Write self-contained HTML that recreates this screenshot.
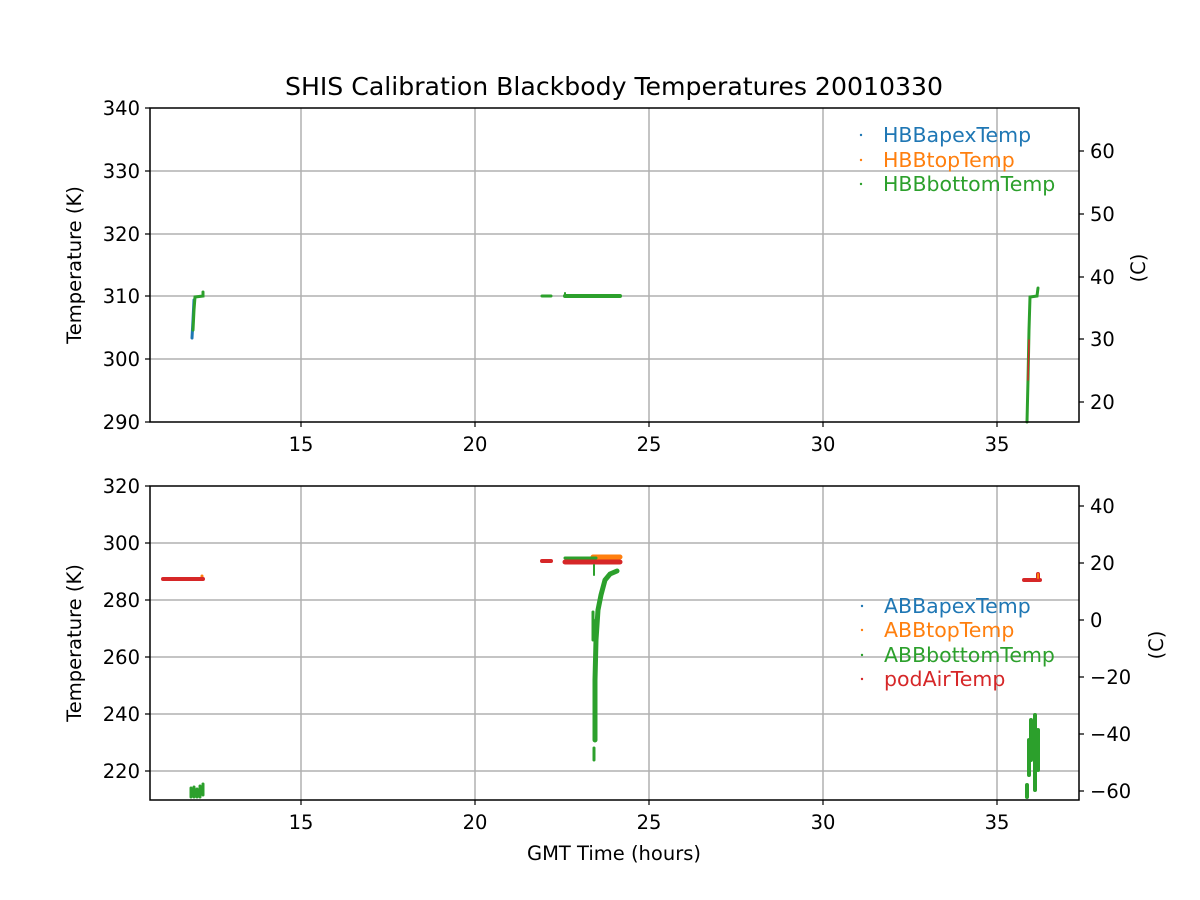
<!DOCTYPE html>
<html><head><meta charset="utf-8"><style>body{margin:0;background:#fff}svg{display:block}text{font-family:"DejaVu Sans","Liberation Sans",sans-serif;fill:#000}</style></head><body>
<svg width="1200" height="900" xmlns="http://www.w3.org/2000/svg">
<rect width="1200" height="900" fill="#fff"/>
<text x="614" y="95" font-size="24.5" text-anchor="middle" textLength="658" lengthAdjust="spacingAndGlyphs">SHIS Calibration Blackbody Temperatures 20010330</text>
<g stroke="#b0b0b0" stroke-width="1.5">
<line x1="301" y1="108" x2="301" y2="422"/><line x1="475" y1="108" x2="475" y2="422"/><line x1="649" y1="108" x2="649" y2="422"/><line x1="823" y1="108" x2="823" y2="422"/><line x1="997" y1="108" x2="997" y2="422"/>
<line x1="150" y1="171" x2="1079" y2="171"/><line x1="150" y1="234" x2="1079" y2="234"/><line x1="150" y1="296" x2="1079" y2="296"/><line x1="150" y1="359" x2="1079" y2="359"/>
<line x1="301" y1="486" x2="301" y2="800"/><line x1="475" y1="486" x2="475" y2="800"/><line x1="649" y1="486" x2="649" y2="800"/><line x1="823" y1="486" x2="823" y2="800"/><line x1="997" y1="486" x2="997" y2="800"/>
<line x1="150" y1="543" x2="1079" y2="543"/><line x1="150" y1="600" x2="1079" y2="600"/><line x1="150" y1="657" x2="1079" y2="657"/><line x1="150" y1="714" x2="1079" y2="714"/><line x1="150" y1="771" x2="1079" y2="771"/>
</g>
<g fill="none" stroke-linecap="round">
<path d="M192 338 L193 320 L194 300" stroke="#1f77b4" stroke-width="3"/>
<path d="M193 330 L194 310 L195 297 L203 296 L203 292" stroke="#2ca02c" stroke-width="3"/>
<path d="M542 296 H551" stroke="#2ca02c" stroke-width="3"/>
<path d="M565 296 H620" stroke="#2ca02c" stroke-width="4"/>
<path d="M565 293 V296" stroke="#2ca02c" stroke-width="2"/>
<path d="M1027 422 L1028 380 L1029 330 L1030 297 L1037 296 L1038 288" stroke="#2ca02c" stroke-width="3"/>
<path d="M1028 380 L1029 340" stroke="#d62728" stroke-width="1.5"/>
</g>
<g fill="none" stroke-linecap="round">
<path d="M163 579 H203 M202 576 V579" stroke="#ff7f0e" stroke-width="3"/>
<path d="M163 579 H203" stroke="#d62728" stroke-width="4"/>
<path d="M191 788 V797 M194 787 V797 M197 789 V797 M200 786 V797 M203 784 V795" stroke="#2ca02c" stroke-width="3"/>
<path d="M542 561 H551" stroke="#d62728" stroke-width="4"/>
<path d="M593 557 H620" stroke="#ff7f0e" stroke-width="5"/>
<path d="M565 558 H596" stroke="#2ca02c" stroke-width="3"/>
<path d="M565 562 H620" stroke="#d62728" stroke-width="5"/>
<path d="M594 565 V575" stroke="#2ca02c" stroke-width="2"/>
<path d="M595 740 L595 680 L596 640 L598 610 L601 595 L605 580 L610 574 L617 571" stroke="#2ca02c" stroke-width="5"/>
<path d="M594 748 V760 M593 612 V640 M596 620 V700" stroke="#2ca02c" stroke-width="3"/>
<path d="M1024 580 H1040 M1038 574 V579" stroke="#d62728" stroke-width="4"/>
<path d="M1038 574 V578" stroke="#ff7f0e" stroke-width="2"/>
<path d="M1031 720 V760 M1035 715 V790 M1038 730 V770 M1029 740 V775" stroke="#2ca02c" stroke-width="4"/>
<path d="M1027 785 V797" stroke="#2ca02c" stroke-width="4"/>
</g>
<rect x="150" y="108" width="929" height="314" fill="none" stroke="#000" stroke-width="1.5"/>
<rect x="150" y="486" width="929" height="314" fill="none" stroke="#000" stroke-width="1.5"/>
<g stroke="#000" stroke-width="1.2">
<path d="M301 422v5M475 422v5M649 422v5M823 422v5M997 422v5M150 108h-5M150 171h-5M150 234h-5M150 296h-5M150 359h-5M150 422h-5M1079 151h5M1079 214h5M1079 277h5M1079 339h5M1079 402h5"/>
<path d="M301 800v5M475 800v5M649 800v5M823 800v5M997 800v5M150 486h-5M150 543h-5M150 600h-5M150 657h-5M150 714h-5M150 771h-5M1079 506h5M1079 563h5M1079 620h5M1079 677h5M1079 734h5M1079 791h5"/>
</g>
<g font-size="19.5" text-anchor="middle">
<text x="301" y="451">15</text><text x="475" y="451">20</text><text x="649" y="451">25</text><text x="823" y="451">30</text><text x="997" y="451">35</text>
<text x="301" y="829">15</text><text x="475" y="829">20</text><text x="649" y="829">25</text><text x="823" y="829">30</text><text x="997" y="829">35</text>
</g>
<g font-size="19.5" text-anchor="end">
<text x="140" y="115">340</text><text x="140" y="178">330</text><text x="140" y="241">320</text><text x="140" y="303">310</text><text x="140" y="366">300</text><text x="140" y="429">290</text>
<text x="140" y="493">320</text><text x="140" y="550">300</text><text x="140" y="607">280</text><text x="140" y="664">260</text><text x="140" y="721">240</text><text x="140" y="778">220</text>
</g>
<g font-size="19.5">
<text x="1090" y="158">60</text><text x="1090" y="221">50</text><text x="1090" y="284">40</text><text x="1090" y="346">30</text><text x="1090" y="409">20</text>
<text x="1090" y="513">40</text><text x="1090" y="570">20</text><text x="1090" y="627">0</text><text x="1090" y="684">−20</text><text x="1090" y="741">−40</text><text x="1090" y="798">−60</text>
</g>
<text font-size="19.5" transform="translate(81,265) rotate(-90)" text-anchor="middle">Temperature (K)</text>
<text font-size="19.5" transform="translate(81,643) rotate(-90)" text-anchor="middle">Temperature (K)</text>
<text font-size="19.5" transform="translate(1145,268) rotate(-90)" text-anchor="middle">(C)</text>
<text font-size="19.5" transform="translate(1163,645) rotate(-90)" text-anchor="middle">(C)</text>
<text font-size="19.5" x="614" y="860" text-anchor="middle">GMT Time (hours)</text>
<g font-size="20.5">
<circle cx="861" cy="135" r="1.2" fill="#1f77b4"/><text x="883" y="142" style="fill:#1f77b4">HBBapexTemp</text>
<circle cx="861" cy="160" r="1.2" fill="#ff7f0e"/><text x="883" y="167" style="fill:#ff7f0e">HBBtopTemp</text>
<circle cx="861" cy="184" r="1.2" fill="#2ca02c"/><text x="883" y="191" style="fill:#2ca02c">HBBbottomTemp</text>
<circle cx="862" cy="606" r="1.2" fill="#1f77b4"/><text x="884" y="613" style="fill:#1f77b4">ABBapexTemp</text>
<circle cx="862" cy="630" r="1.2" fill="#ff7f0e"/><text x="884" y="637" style="fill:#ff7f0e">ABBtopTemp</text>
<circle cx="862" cy="655" r="1.2" fill="#2ca02c"/><text x="884" y="662" style="fill:#2ca02c">ABBbottomTemp</text>
<circle cx="862" cy="679" r="1.2" fill="#d62728"/><text x="884" y="686" style="fill:#d62728">podAirTemp</text>
</g>
</svg>
</body></html>
